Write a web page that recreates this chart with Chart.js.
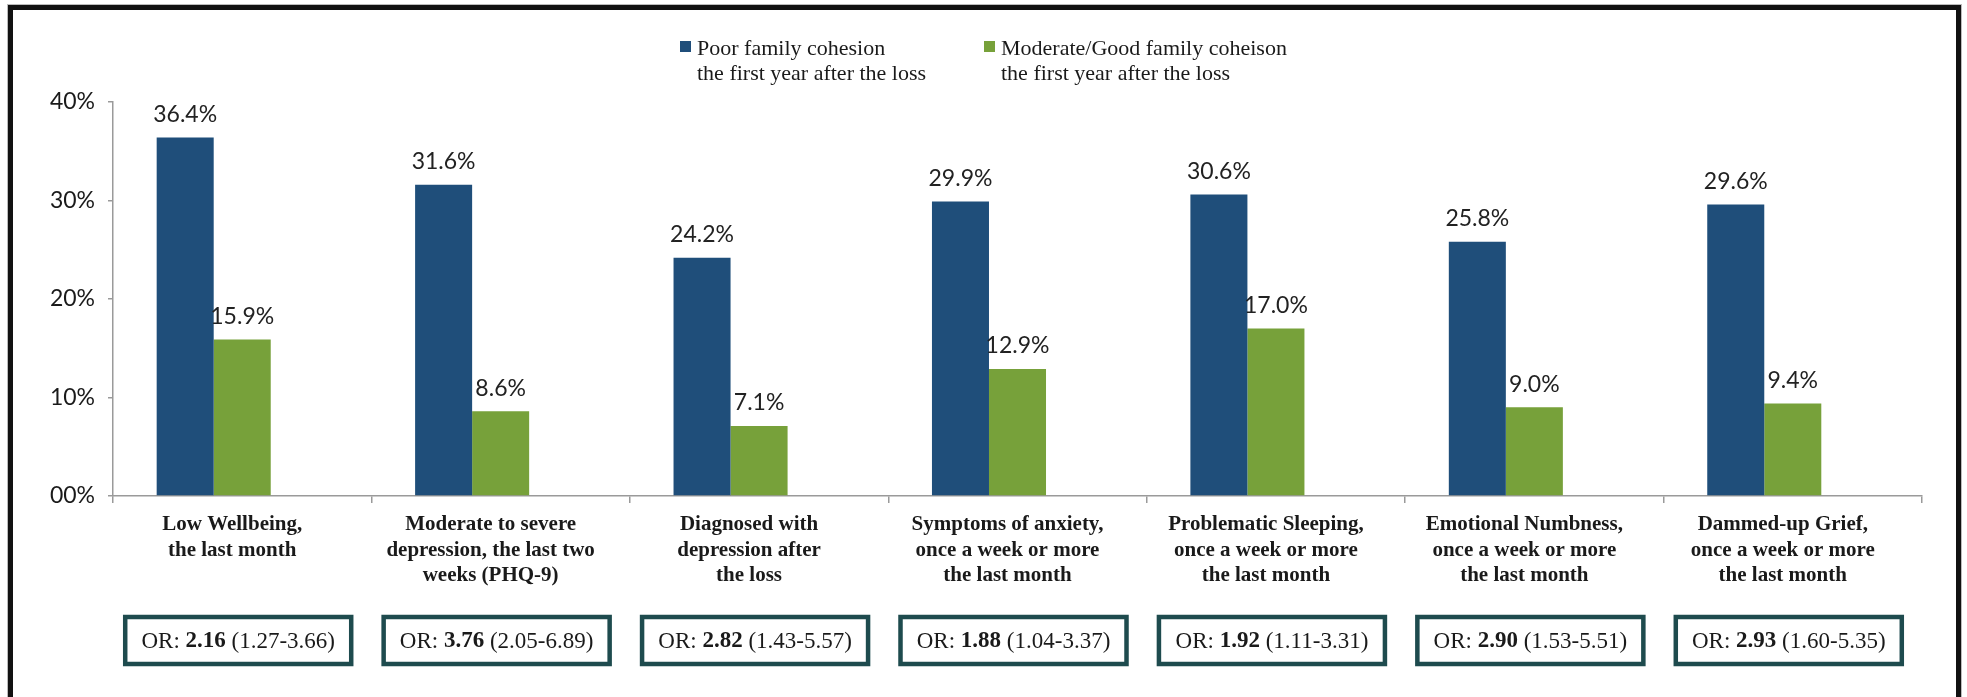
<!DOCTYPE html>
<html>
<head>
<meta charset="utf-8">
<script src="https://cdn.jsdelivr.net/npm/chart.js@4.4.1/dist/chart.umd.min.js"></script>
<style>
  html, body { margin: 0; padding: 0; background: #ffffff; overflow: hidden; }
  #wrap { position: relative; width: 1967px; height: 697px; }
  #frame { position: absolute; left: 8px; top: 5px; width: 1943px; height: 720px; border: 5px solid #111; box-shadow: 0 0 0 1px #bbb; pointer-events: none; }
  canvas { position: absolute; left: 0; top: 0; }
</style>
</head>
<body>
<div id="wrap">
  <canvas id="c" width="1967" height="697"></canvas>
  <div id="frame"></div>
</div>
<script>
// ---- Data ----
const categories = [
  ['Low Wellbeing,', 'the last month'],
  ['Moderate to severe', 'depression, the last two', 'weeks (PHQ-9)'],
  ['Diagnosed with', 'depression after', 'the loss'],
  ['Symptoms of anxiety,', 'once a week or more', 'the last month'],
  ['Problematic Sleeping,', 'once a week or more', 'the last month'],
  ['Emotional Numbness,', 'once a week or more', 'the last month'],
  ['Dammed-up Grief,', 'once a week or more', 'the last month']
];
const poorCohesion = [36.4, 31.6, 24.2, 29.9, 30.6, 25.8, 29.6];
const goodCohesion = [15.9, 8.6, 7.1, 12.9, 17.0, 9.0, 9.4];
const emptySeries = [null, null, null, null, null, null, null];
const seriesNames = [
  ['Poor family cohesion', 'the first year after the loss'],
  ['Moderate/Good family coheison', 'the first year after the loss']
];
const seriesColors = ['#1f4e7a', '#77a13a'];
const yTickLabels = ['00%', '10%', '20%', '30%', '40%'];
const orValues = ['2.16', '3.76', '2.82', '1.88', '1.92', '2.90', '2.93'];
const orIntervals = ['(1.27-3.66)', '(2.05-6.89)', '(1.43-5.57)', '(1.04-3.37)', '(1.11-3.31)', '(1.53-5.51)', '(1.60-5.35)'];

const SERIF = '"Liberation Serif", "DejaVu Serif", serif';
const SANS = 'Lato, "Open Sans", sans-serif';

const valueLabels = {
  id: 'valueLabels',
  afterDatasetsDraw(chart) {
    const ctx = chart.ctx;
    ctx.save();
    ctx.font = '23px ' + SANS;
    ctx.fillStyle = '#222';
    ctx.textAlign = 'center';
    ctx.textBaseline = 'middle';
    chart.data.datasets.forEach((ds, di) => {
      const meta = chart.getDatasetMeta(di);
      meta.data.forEach((bar, i) => {
        const v = ds.data[i];
        if (v === null || v === undefined) return;
        ctx.fillText(v.toFixed(1) + '%', bar.x, bar.y - 23);
      });
    });
    ctx.restore();
  }
};

const legendAndBoxes = {
  id: 'legendAndBoxes',
  afterDraw(chart) {
    const ctx = chart.ctx;
    ctx.save();
    // legend
    const legendX = [680, 984];
    ctx.font = '22px ' + SERIF;
    ctx.textBaseline = 'middle';
    ctx.textAlign = 'left';
    seriesNames.forEach((lines, k) => {
      ctx.fillStyle = seriesColors[k];
      ctx.fillRect(legendX[k], 41, 11, 11);
      ctx.fillStyle = '#1a1a1a';
      lines.forEach((t, j) => ctx.fillText(t, legendX[k] + 17, 49 + j * 25));
    });
    // OR boxes
    const xs = chart.scales.x;
    const bw = 226, bh = 47, by = 617;
    orValues.forEach((val, i) => {
      const cx = xs.getPixelForValue(i) - 4;
      ctx.strokeStyle = '#1e4b4e';
      ctx.lineWidth = 4.5;
      ctx.strokeRect(cx - bw / 2, by, bw, bh);
      const pA = 'OR: ', pB = val, pC = ' ' + orIntervals[i];
      const fN = '23px ' + SERIF, fB = 'bold 23px ' + SERIF;
      ctx.font = fN; const wA = ctx.measureText(pA).width; const wC = ctx.measureText(pC).width;
      ctx.font = fB; const wB = ctx.measureText(pB).width;
      let x = cx - (wA + wB + wC) / 2;
      const ty = by + bh / 2 + 1;
      ctx.fillStyle = '#1a1a1a';
      ctx.font = fN; ctx.fillText(pA, x, ty); x += wA;
      ctx.font = fB; ctx.fillText(pB, x, ty); x += wB;
      ctx.font = fN; ctx.fillText(pC, x, ty);
    });
    ctx.restore();
  }
};

new Chart(document.getElementById('c'), {
  type: 'bar',
  data: {
    labels: categories,
    datasets: [
      { label: seriesNames[0].join(' '), data: poorCohesion, backgroundColor: seriesColors[0] },
      { label: seriesNames[1].join(' '), data: goodCohesion, backgroundColor: seriesColors[1] },
      { label: '', data: emptySeries, backgroundColor: 'rgba(0,0,0,0)' }
    ]
  },
  options: {
    responsive: false,
    animation: false,
    devicePixelRatio: 1,
    layout: { padding: { left: 0, right: 45, top: 102, bottom: 0 } },
    datasets: { bar: { barPercentage: 1.0, categoryPercentage: 0.662 } },
    plugins: { legend: { display: false }, tooltip: { enabled: false } },
    scales: {
      x: {
        afterFit(s) { s.height = 201; },
        grid: { drawOnChartArea: false, drawTicks: true, tickLength: 7, color: '#9a9a9a', lineWidth: 1.5, offset: true },
        border: { color: '#9a9a9a', width: 1.5 },
        ticks: {
          color: '#1a1a1a',
          font: { family: SERIF, size: 21, weight: 'bold', lineHeight: 1.22 },
          padding: 9,
          labelOffset: -10,
          maxRotation: 0,
          autoSkip: false
        }
      },
      y: {
        min: 0, max: 40,
        afterFit(s) { s.width = 113; },
        grid: { drawOnChartArea: false, drawTicks: true, tickLength: 5, color: '#9a9a9a', lineWidth: 1.5 },
        border: { color: '#9a9a9a', width: 1.5 },
        ticks: {
          stepSize: 10,
          color: '#1a1a1a',
          font: { family: SANS, size: 23 },
          padding: 13,
          callback: (v, i) => yTickLabels[i]
        }
      }
    }
  },
  plugins: [valueLabels, legendAndBoxes]
});
</script>
</body>
</html>
